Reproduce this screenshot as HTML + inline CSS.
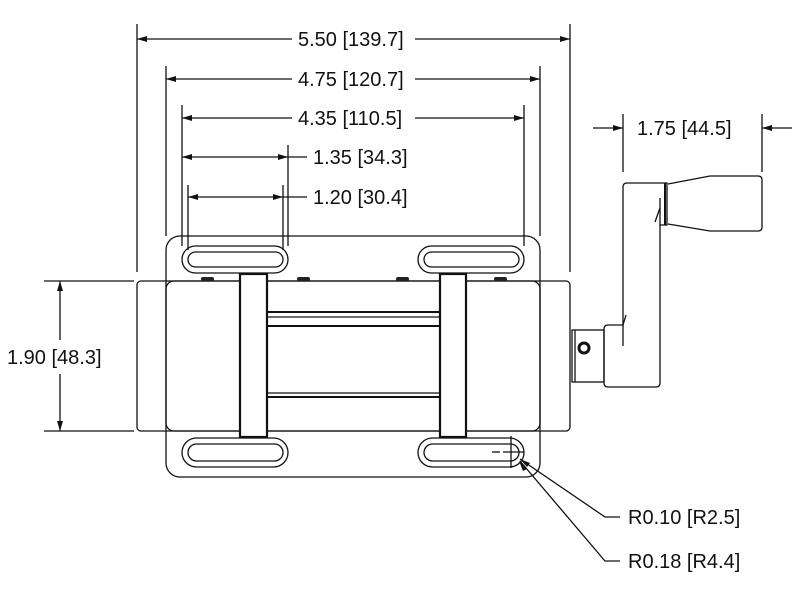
<!DOCTYPE html>
<html><head><style>body{margin:0;background:#fff}svg{display:block}text{font-family:"Liberation Sans",sans-serif;font-size:20px;fill:#111}</style></head>
<body>
<svg width="800" height="600" viewBox="0 0 800 600" xmlns="http://www.w3.org/2000/svg">
<defs>
<marker id="a" viewBox="0 0 10 6" refX="10" refY="3" markerWidth="10" markerHeight="6" orient="auto-start-reverse" markerUnits="userSpaceOnUse"><path d="M0,0L10,3L0,6z" fill="#111"/></marker>
</defs>
<g stroke="#111" stroke-width="1.3" fill="none">
<line x1="137" y1="24" x2="137" y2="272"/><line x1="570" y1="24" x2="570" y2="272"/>
<line x1="166" y1="66" x2="166" y2="236"/><line x1="540" y1="66" x2="540" y2="236"/>
<line x1="182" y1="105" x2="182" y2="246"/><line x1="524" y1="105" x2="524" y2="246"/>
<line x1="288" y1="145" x2="288" y2="246"/><line x1="188" y1="185" x2="188" y2="250"/><line x1="283" y1="185" x2="283" y2="250"/>
<line x1="137" y1="39" x2="292" y2="39" marker-start="url(#a)"/><line x1="415" y1="39" x2="570" y2="39" marker-end="url(#a)"/>
<line x1="166" y1="79" x2="292" y2="79" marker-start="url(#a)"/><line x1="415" y1="79" x2="540" y2="79" marker-end="url(#a)"/>
<line x1="182" y1="118" x2="292" y2="118" marker-start="url(#a)"/><line x1="415" y1="118" x2="524" y2="118" marker-end="url(#a)"/>
<line x1="182" y1="157" x2="288" y2="157" marker-start="url(#a)" marker-end="url(#a)"/><line x1="288" y1="157" x2="307" y2="157"/>
<line x1="188" y1="197" x2="283" y2="197" marker-start="url(#a)" marker-end="url(#a)"/><line x1="283" y1="197" x2="307" y2="197"/>
<line x1="623" y1="114" x2="623" y2="172"/><line x1="762" y1="114" x2="762" y2="172"/>
<line x1="593" y1="128" x2="623" y2="128" marker-end="url(#a)"/><line x1="792" y1="128" x2="762" y2="128" marker-end="url(#a)"/>
<line x1="44" y1="281" x2="134" y2="281"/><line x1="44" y1="431" x2="134" y2="431"/>
<line x1="60" y1="281" x2="60" y2="340" marker-start="url(#a)"/><line x1="60" y1="374" x2="60" y2="431" marker-end="url(#a)"/>
<rect x="166" y="236" width="374" height="241" rx="14"/>
<rect x="137" y="281" width="433" height="150" rx="4"/>
<rect x="166" y="281" width="374" height="150" rx="8"/>
<rect x="182" y="246" width="106" height="27" rx="13.5"/><rect x="188" y="252" width="95" height="15" rx="7.5"/>
<rect x="418" y="246" width="106" height="27" rx="13.5"/><rect x="424" y="252" width="95" height="15" rx="7.5"/>
<rect x="182" y="438" width="106" height="29" rx="14.5"/><rect x="188" y="444" width="95" height="17" rx="8.5"/>
<rect x="418" y="438" width="106" height="29" rx="14.5"/><rect x="424" y="444" width="95" height="17" rx="8.5"/>
<line x1="492" y1="452" x2="500" y2="452"/><line x1="503" y1="452" x2="524" y2="452"/><line x1="511" y1="436" x2="511" y2="468"/>
<line x1="267" y1="312" x2="440" y2="312" stroke-width="2"/><line x1="267" y1="317" x2="440" y2="317"/><line x1="267" y1="326" x2="440" y2="326" stroke-width="2"/>
<line x1="267" y1="393" x2="440" y2="393"/><line x1="267" y1="397" x2="440" y2="397" stroke-width="2"/>
<rect x="240" y="274" width="27" height="163" stroke-width="2.2" fill="#fff"/>
<rect x="440" y="274" width="26" height="163" stroke-width="2.2" fill="#fff"/>
<rect x="572" y="330" width="32" height="52"/>
<line x1="575" y1="330" x2="575" y2="382"/>
<circle cx="584" cy="348" r="5" stroke-width="3"/>
<path d="M608,325 L623,325 L623,187 Q623,183 627,183 L667,183 L667,225 L660,225 L660,383 Q660,387 656,387 L608,387 Q604,387 604,383 L604,329 Q604,325 608,325Z"/>
<line x1="623" y1="325" x2="626" y2="315"/><line x1="623" y1="325" x2="623" y2="346"/>
<line x1="660" y1="198" x2="660" y2="225"/><line x1="655" y1="222" x2="660" y2="208"/>
<line x1="665" y1="183" x2="665" y2="225" stroke-width="2"/>
<path d="M668,184 L710,176 L758,176 Q762,176 762,180 L762,227 Q762,231 758,231 L710,231 L668,224"/>
<polyline points="520,459 605,517 620,517"/><polyline points="520,461 605,561 620,561"/>
</g>
<path d="M520,459 L530,463 L527,467Z" fill="#111"/><path d="M519,461 L527,469 L523,471Z" fill="#111"/>
<g fill="#222" stroke="none">
<rect x="201" y="277" width="13" height="4" rx="2"/><rect x="297" y="277" width="13" height="4" rx="2"/><rect x="396" y="277" width="13" height="4" rx="2"/><rect x="494" y="277" width="13" height="4" rx="2"/>
</g>
<text x="298" y="46">5.50 [139.7]</text>
<text x="298" y="86">4.75 [120.7]</text>
<text x="298" y="125">4.35 [110.5]</text>
<text x="313" y="164">1.35 [34.3]</text>
<text x="313" y="204">1.20 [30.4]</text>
<text x="637" y="135">1.75 [44.5]</text>
<text x="7" y="364">1.90 [48.3]</text>
<text x="628" y="524">R0.10 [R2.5]</text>
<text x="628" y="568">R0.18 [R4.4]</text>
</svg>
</body></html>
